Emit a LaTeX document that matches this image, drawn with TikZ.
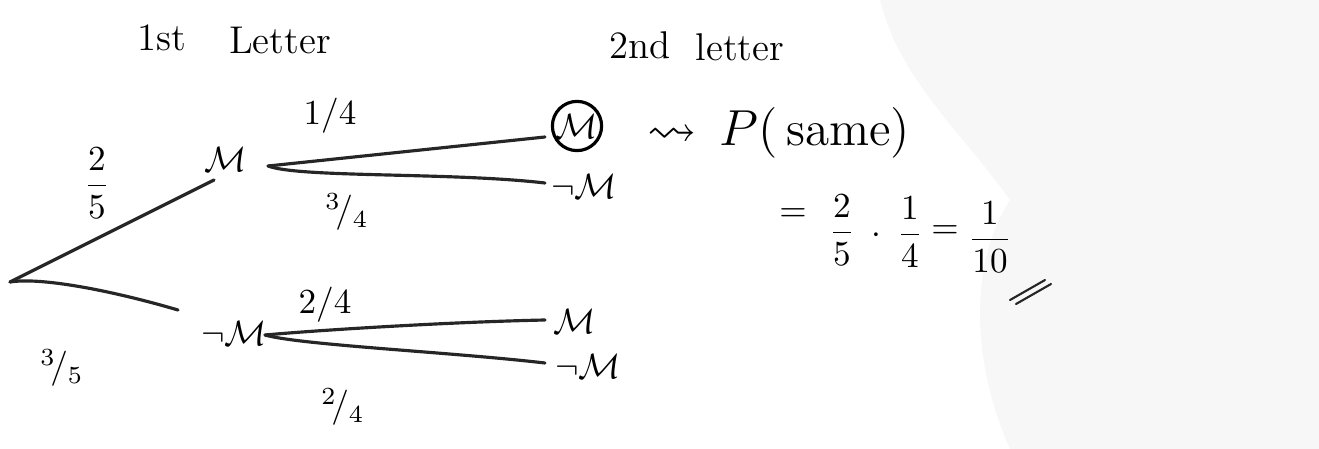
\documentclass[tikz,border=0pt]{standalone}
\usepackage{amsmath,amssymb}
\begin{document}
\begin{tikzpicture}[x=0.01cm,y=-0.01cm,line cap=round,line join=round]
\tikzset{
  pen/.style={line width=0.9pt,black!85},
  hd/.style={inner sep=0pt,font=\fontsize{11}{13}\selectfont},
  st/.style={inner sep=1pt,font=\fontsize{10}{12}\selectfont},
  lbl/.style={inner sep=0pt,font=\fontsize{10}{12}\selectfont},
  big/.style={inner sep=0pt,font=\fontsize{14}{16}\selectfont},
  shade/.style={fill=black!3,draw=none}
}
\useasboundingbox (0,0) rectangle (1319,449);
% faint paper texture on the right
\fill[shade] (880,0) -- (1319,0) -- (1319,449) -- (1010,449)
  .. controls (970,360) and (970,260) .. (1010,200)
  .. controls (960,130) and (900,80) .. (880,0) -- cycle;

% headers
\node[hd] (h1) at (162,38) {1st};
\node[hd] (h2) at (280,40) {Letter};
\node[hd] (h3) at (640,45) {2nd};
\node[hd] (h4) at (740,47) {letter};

% tree nodes
\coordinate (root) at (10,282);
\node[st] (m1) at (226,159) {$\mathcal{M}$};
\node[st] (n1) at (234,333) {$\neg\mathcal{M}$};
\node[st,draw,circle,line width=0.9pt,minimum size=14pt,inner sep=0pt] (mm) at (577,126) {$\mathcal{M}$};
\node[st] (mn) at (584,186) {$\neg\mathcal{M}$};
\node[st] (nm) at (575,321) {$\mathcal{M}$};
\node[st] (nn) at (588,366) {$\neg\mathcal{M}$};

% first level
\draw[pen] (root) -- ([shift={(-12,21)}]m1.center);
\draw[pen] (root) .. controls (40,277) and (110,290) .. ([shift={(-56,-23)}]n1.center);
% second level from M
\draw[pen] ([shift={(42,7)}]m1.center) -- ([shift={(-32,11)}]mm.center);
\draw[pen] ([shift={(42,7)}]m1.center) .. controls (300,178) and (450,172) .. ([shift={(-39,-3)}]mn.center);
% second level from not M
\draw[pen] ([shift={(31,2)}]n1.center) .. controls (320,330) and (450,322) .. ([shift={(-30,-1)}]nm.center);
\draw[pen] ([shift={(31,2)}]n1.center) .. controls (300,345) and (450,352) .. ([shift={(-43,-3)}]nn.center);

% branch labels
\node[lbl] (l25) at (97,183) {$\dfrac{2}{5}$};
\node[lbl] (l35) at (62,368) {$^{3}\!/_{5}$};
\node[lbl] (l14) at (330,116) {$1/4$};
\node[lbl] (l34) at (347,212) {$^{3}\!/_{4}$};
\node[lbl] (l24a) at (325,305) {$2/4$};
\node[lbl] (l24b) at (343,407) {$^{2}\!/_{4}$};

% result
\node[big] (arr) at (672,136) {$\leadsto$};
\node[big] (ps) at (815,133) {$P($\,same$)$};
\node[lbl] (eq1) at (793,215) {$=$};
\node[lbl] (f1) at (842,230) {$\dfrac{2}{5}$};
\node[lbl] (dot) at (876,236) {$\cdot$};
\node[lbl] (f2) at (910,232) {$\dfrac{1}{4}$};
\node[lbl] (eq2) at (945,232) {$=$};
\node[lbl] (f3) at (990,237) {$\dfrac{1}{10}$};
\coordinate (u1) at (1010,300);
\coordinate (u2) at (1045,280);
\coordinate (u3) at (1016,304);
\coordinate (u4) at (1051,284);
\draw[pen,line width=0.6pt] (u1) -- (u2);
\draw[pen,line width=0.6pt] (u3) -- (u4);
\end{tikzpicture}
\end{document}
